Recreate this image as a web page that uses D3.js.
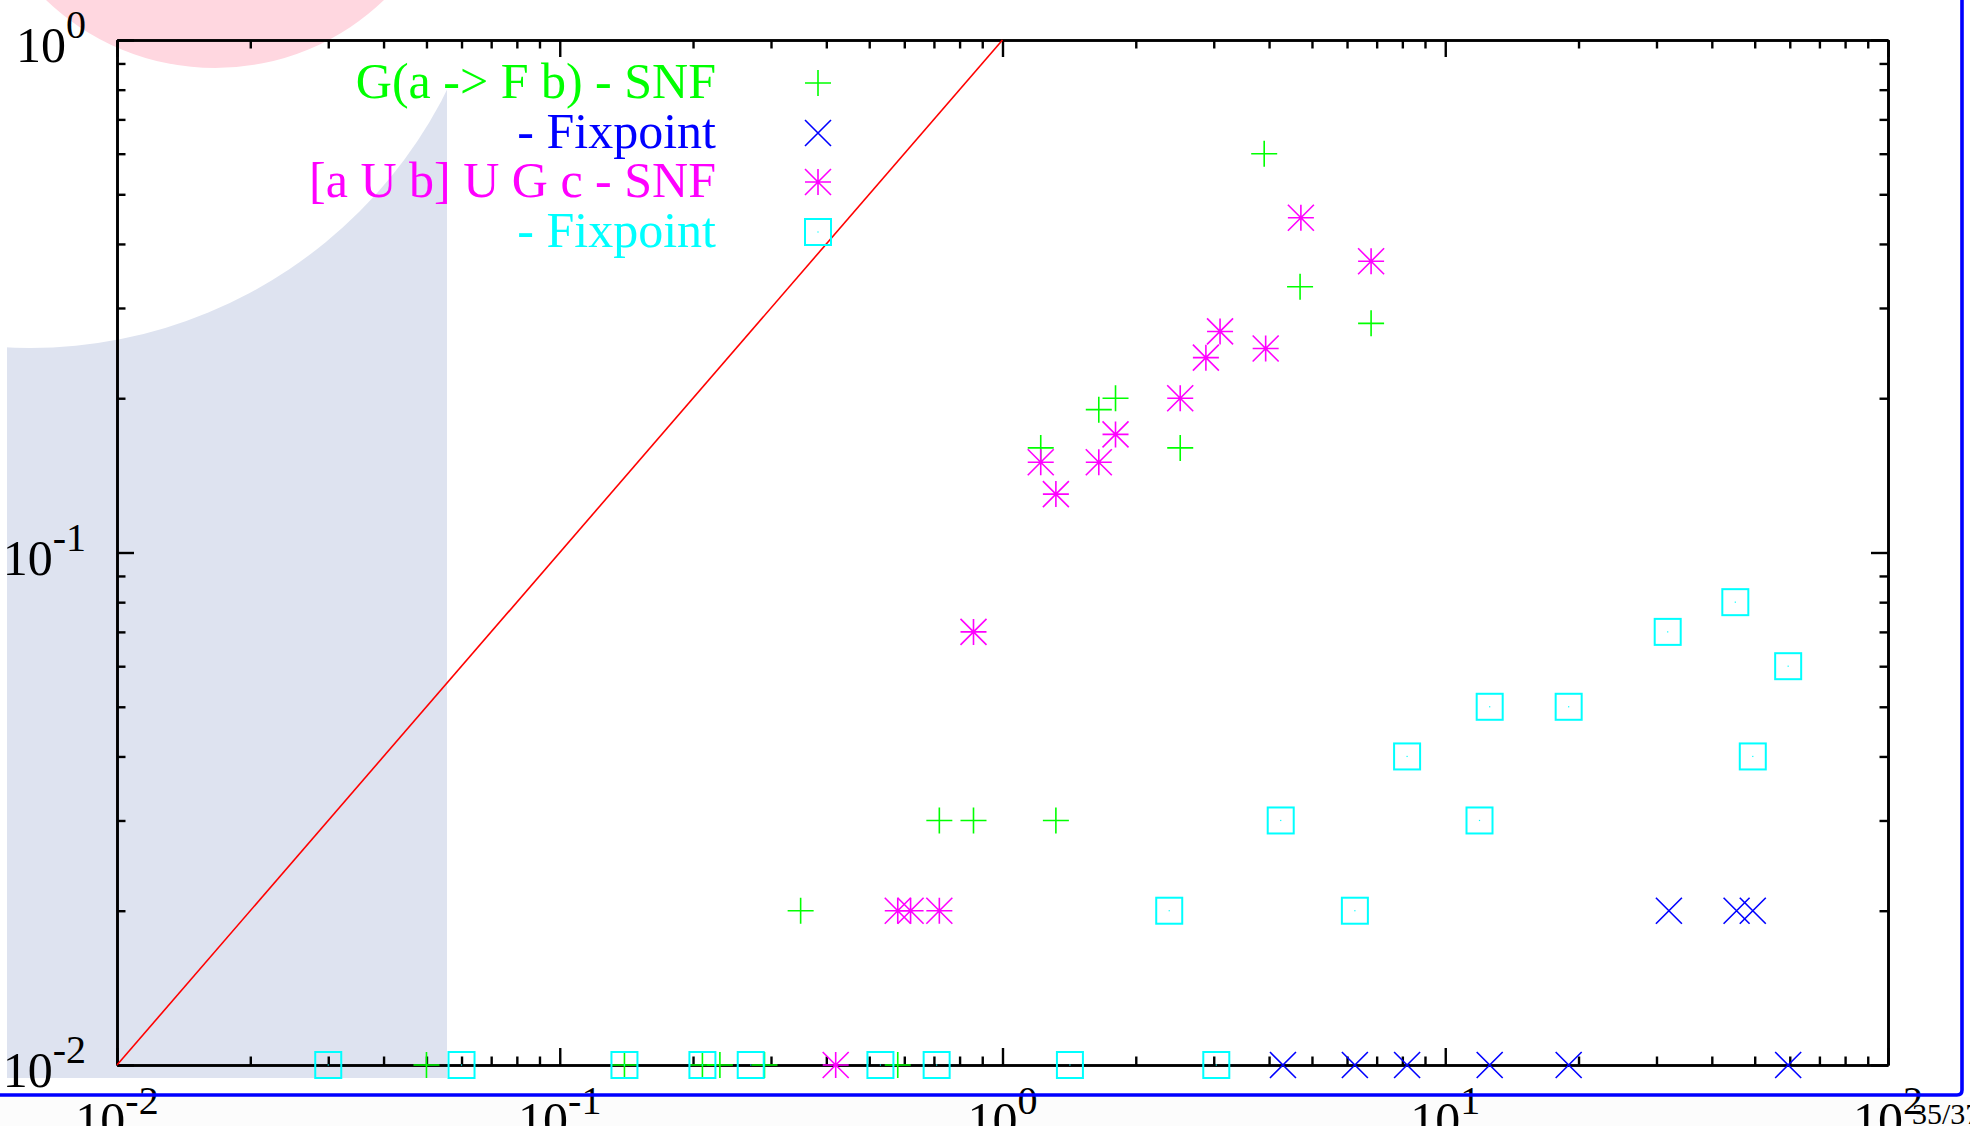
<!DOCTYPE html>
<html><head><meta charset="utf-8">
<script src="https://cdn.jsdelivr.net/npm/d3@7"></script>
<style>html,body{margin:0;padding:0;background:#fff;overflow:hidden}</style>
</head><body>
<svg id="c" width="1970" height="1126"></svg>
<script>
// ---- data ----
const seriesNames = ["G(a -> F b) - SNF", "- Fixpoint", "[a U b] U G c - SNF", "- Fixpoint"];
const seriesColors = ["#00ff00", "#0000ff", "#ff00ff", "#00ffff"];
const seriesMarkers = ["plus", "cross", "star", "box"];

const gSnfX = [3.9, 4.7, 6.8, 1.65, 1.8, 1.22, 2.52, 0.72, 0.86, 1.32, 0.35, 0.05, 0.14, 0.21, 0.23, 0.29, 0.58];
const gSnfY = [0.6, 0.33, 0.28, 0.19, 0.2, 0.16, 0.16, 0.03, 0.03, 0.03, 0.02, 0.01, 0.01, 0.01, 0.01, 0.01, 0.01];

const gFixX = [32, 45.5, 49.5, 4.3, 6.25, 8.2, 12.6, 19, 59.5];
const gFixY = [0.02, 0.02, 0.02, 0.01, 0.01, 0.01, 0.01, 0.01, 0.01];

const uSnfX = [4.72, 6.8, 3.1, 3.93, 2.88, 2.52, 1.8, 1.65, 1.22, 1.32, 0.86, 0.58, 0.62, 0.72, 0.42];
const uSnfY = [0.45, 0.37, 0.27, 0.25, 0.24, 0.2, 0.17, 0.15, 0.15, 0.13, 0.07, 0.02, 0.02, 0.02, 0.01];

const uFixX = [59.5, 45.2, 31.8, 12.6, 19, 8.2, 49.5, 4.25, 11.95, 2.38, 6.25, 0.03, 0.06, 0.14, 0.21, 0.27, 0.53, 0.71, 1.42, 3.04];
const uFixY = [0.06, 0.08, 0.07, 0.05, 0.05, 0.04, 0.04, 0.03, 0.03, 0.02, 0.02, 0.01, 0.01, 0.01, 0.01, 0.01, 0.01, 0.01, 0.01, 0.01];

const xMajor = [0.01, 0.1, 1, 10, 100];
const yMajor = [0.01, 0.1, 1];
const xLabels = ["-2", "-1", "0", "1", "2"];
const yLabels = ["-2", "-1", "0"];
const diagonal = [0.01, 1];
const pageLabel = "35/37";

// ---- layout ----
const svg = d3.select("#c");
const L = 117, R = 1888, T = 40, B = 1065;
const x = d3.scaleLog().domain([0.01, 100]).range([L, R]);
const y = d3.scaleLog().domain([0.01, 1]).range([B, T]);
const font = "'Liberation Serif', 'Times New Roman', serif";

// background decorations
svg.append("rect").attr("x", 7).attr("y", 0).attr("width", 440).attr("height", 1078).attr("fill", "#dee3f0");
svg.append("circle").attr("cx", 30).attr("cy", -118).attr("r", 466).attr("fill", "#ffffff");
svg.append("circle").attr("cx", 215).attr("cy", -176).attr("r", 244).attr("fill", "#ffd7e0");
svg.append("rect").attr("x", 0).attr("y", 1097).attr("width", 1970).attr("height", 29).attr("fill", "#fcfcfc");

// minor ticks
const minorX = [], minorY = [];
for (let d = -2; d < 2; d++) for (let k = 2; k <= 9; k++) minorX.push(k * Math.pow(10, d));
for (let d = -2; d < 0; d++) for (let k = 2; k <= 9; k++) minorY.push(k * Math.pow(10, d));

function styleAxis(g) {
  g.selectAll("path.domain").attr("stroke", "#000").attr("stroke-width", 2.6);
  g.selectAll(".tick line").attr("stroke", "#000").attr("stroke-width", 2.4);
  g.selectAll(".tick text").remove();
}
const axes = [
  [d3.axisBottom, x, xMajor, minorX, `translate(0,${B})`],
  [d3.axisTop, x, xMajor, minorX, `translate(0,${T})`],
  [d3.axisLeft, y, yMajor, minorY, `translate(${L},0)`],
  [d3.axisRight, y, yMajor, minorY, `translate(${R},0)`]
];
axes.forEach(([fn, sc, maj, mnr, tr]) => {
  svg.append("g").attr("transform", tr)
    .call(fn(sc).tickValues(mnr).tickSizeInner(-8.5).tickSizeOuter(0).tickFormat(""))
    .call(styleAxis);
  svg.append("g").attr("transform", tr)
    .call(fn(sc).tickValues(maj).tickSizeInner(-17).tickSizeOuter(0).tickFormat(""))
    .call(styleAxis);
});

// tick labels
yMajor.forEach((v, i) => {
  const t = svg.append("text").attr("x", 86).attr("y", y(v) + 22)
    .attr("text-anchor", "end").attr("font-family", font).attr("font-size", 50).attr("fill", "#000");
  t.append("tspan").text("10");
  t.append("tspan").attr("dy", -24).attr("font-size", 40).text(yLabels[i]);
});
xMajor.forEach((v, i) => {
  const t = svg.append("text").attr("x", x(v)).attr("y", 1137)
    .attr("text-anchor", "middle").attr("font-family", font).attr("font-size", 50).attr("fill", "#000");
  t.append("tspan").text("10");
  t.append("tspan").attr("dy", -23).attr("font-size", 40).text(xLabels[i]);
});

// diagonal
svg.append("path")
  .attr("d", d3.line().x(d => x(d)).y(d => y(d))(diagonal))
  .attr("stroke", "#ff0000").attr("stroke-width", 1.6).attr("fill", "none");

// markers
const S = 13;
function marker(g, type, cx, cy, color) {
  const p = [];
  if (type === "plus" || type === "star") p.push(`M${cx - S},${cy}H${cx + S}M${cx},${cy - S}V${cy + S}`);
  if (type === "cross" || type === "star") p.push(`M${cx - S},${cy - S}L${cx + S},${cy + S}M${cx - S},${cy + S}L${cx + S},${cy - S}`);
  if (p.length) {
    g.append("path").attr("d", p.join("")).attr("stroke", color).attr("stroke-width", 1.6).attr("fill", "none");
  } else {
    g.append("rect").attr("x", cx - S).attr("y", cy - S).attr("width", 2 * S).attr("height", 2 * S)
      .attr("stroke", color).attr("stroke-width", 2).attr("fill", "none");
    g.append("rect").attr("x", cx - 0.6).attr("y", cy - 0.6).attr("width", 1.2).attr("height", 1.2).attr("fill", color);
  }
}
const series = [[gSnfX, gSnfY], [gFixX, gFixY], [uSnfX, uSnfY], [uFixX, uFixY]];
series.forEach(([xs, ys], si) => {
  const g = svg.append("g");
  xs.forEach((xv, i) => marker(g, seriesMarkers[si], x(xv), y(ys[i]), seriesColors[si]));
});

// legend
const legY = [98, 148, 197, 247];
seriesNames.forEach((name, i) => {
  svg.append("text").attr("x", 716).attr("y", legY[i]).attr("text-anchor", "end")
    .attr("font-family", font).attr("font-size", 50).attr("fill", seriesColors[i]).text(name);
  marker(svg.append("g"), seriesMarkers[i], 818, legY[i] - 15, seriesColors[i]);
});

// slide frame
svg.append("path").attr("d", "M0,1095H1957Q1962,1095 1962,1090V0")
  .attr("stroke", "#0000ff").attr("stroke-width", 3.6).attr("fill", "none");
svg.append("text").attr("x", 1912).attr("y", 1124).attr("font-family", font).attr("font-size", 30)
  .attr("fill", "#000").text(pageLabel);
</script>
</body></html>
